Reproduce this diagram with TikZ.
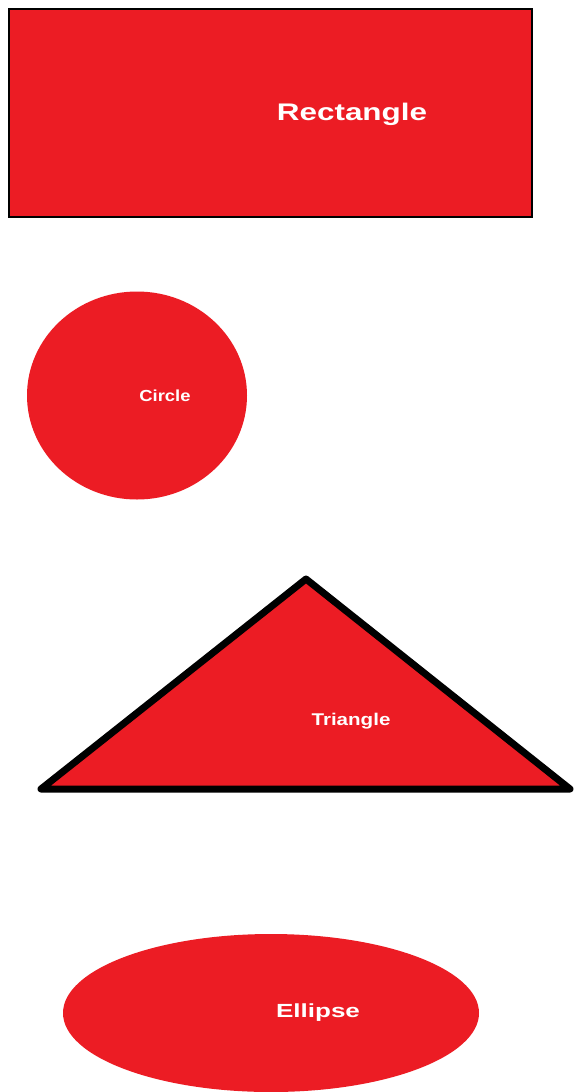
\documentclass[tikz,border=0pt]{standalone}
\usepackage{fontspec}
\setmainfont{Liberation Sans}
\definecolor{paintred}{RGB}{236,28,36}
\tikzset{
  shapefill/.style={fill=paintred},
  lbl/.style={text=white, font=\bfseries, inner sep=0pt, anchor=center}
}
\begin{document}
\begin{tikzpicture}[x=1pt,y=-1pt]
\useasboundingbox (0,0) rectangle (576,1092);
\fill[white] (0,0) rectangle (576,1092);
% rectangle
\draw[shapefill, draw=black, line width=2pt] (9,9) rectangle (532,217);
\node[lbl] (rect) at (352,114) {\scalebox{1.31}[1]{\fontsize{24}{24}\selectfont Rectangle}};
% circle
\fill[shapefill] (137,395.5) ellipse [x radius=110, y radius=104];
\node[lbl] (circ) at (165,396) {\scalebox{1.15}[1]{\fontsize{16}{16}\selectfont Circle}};
% triangle
\draw[shapefill, draw=black, line width=7pt, line join=round] (41,789) -- (306,579) -- (570,789) -- cycle;
\node[lbl] (tri) at (351,721) {\scalebox{1.21}[1]{\fontsize{17}{17}\selectfont Triangle}};
% ellipse
\fill[shapefill] (271,1013) ellipse [x radius=208, y radius=79];
\node[lbl] (ell) at (318,1013) {\scalebox{1.37}[1]{\fontsize{19}{19}\selectfont Ellipse}};
\end{tikzpicture}
\end{document}
